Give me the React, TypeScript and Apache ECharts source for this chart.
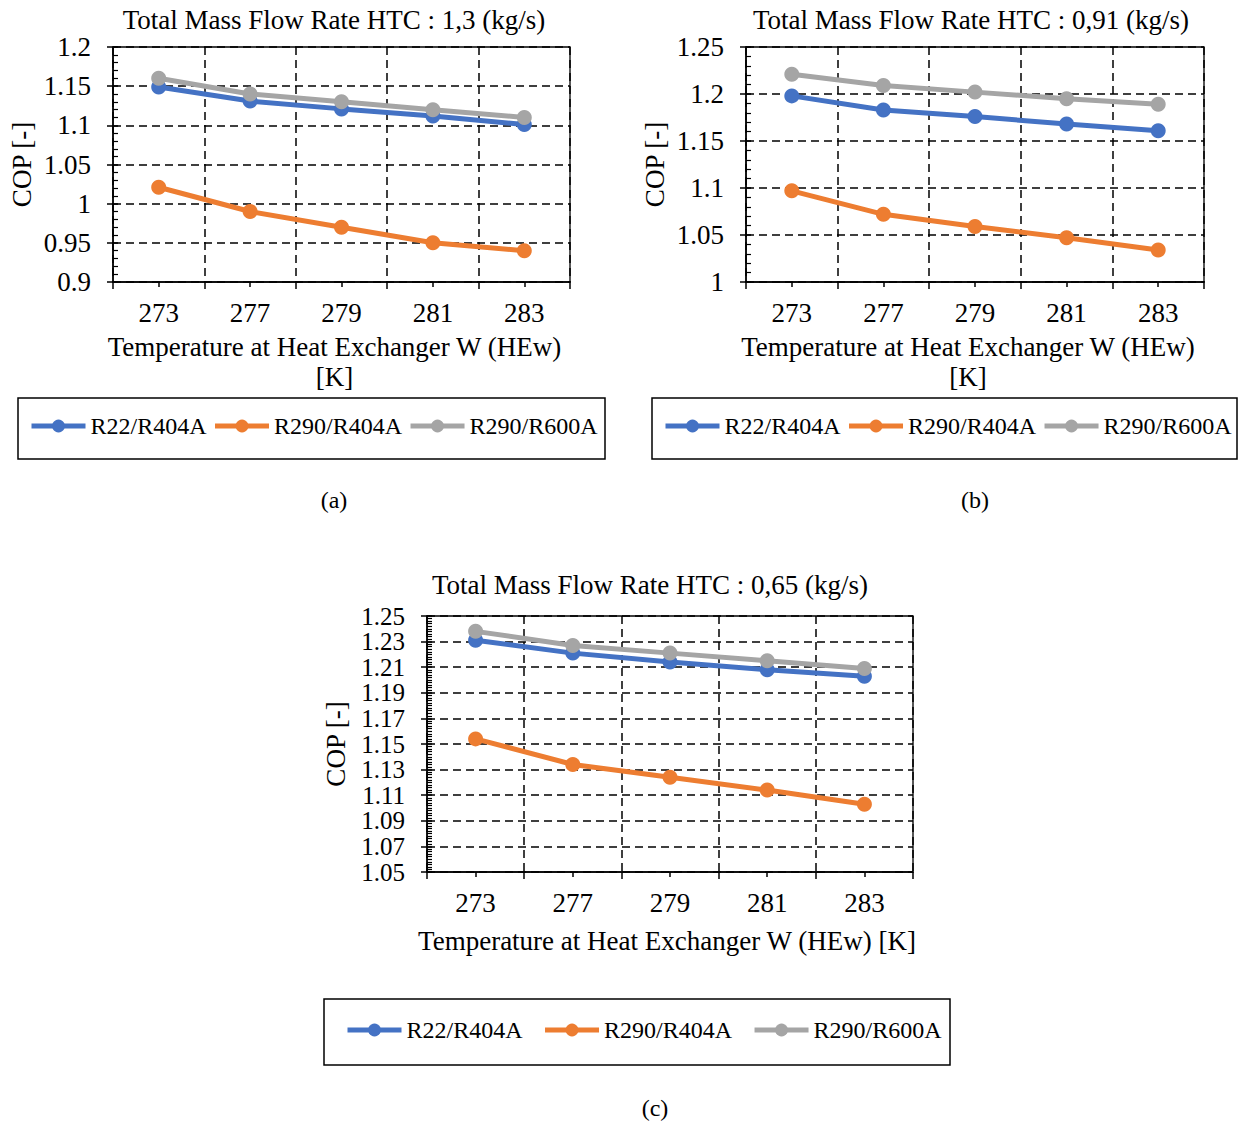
import React, { useEffect, useRef } from 'react';
import * as echarts from 'echarts';

const temps = ['273', '277', '279', '281', '283'];
const seriesNames = ['R22/R404A', 'R290/R404A', 'R290/R600A'];
const colors = ['#4472C4', '#ED7D31', '#A5A5A5'];

// (a) 1,3 kg/s
const aR22 = [1.149, 1.131, 1.121, 1.112, 1.101];
const aR290R404 = [1.021, 0.990, 0.970, 0.950, 0.940];
const aR290R600 = [1.160, 1.140, 1.130, 1.120, 1.110];
// (b) 0,91 kg/s
const bR22 = [1.198, 1.183, 1.176, 1.168, 1.161];
const bR290R404 = [1.097, 1.072, 1.059, 1.047, 1.034];
const bR290R600 = [1.221, 1.209, 1.202, 1.195, 1.189];
// (c) 0,65 kg/s
const cR22 = [1.231, 1.221, 1.214, 1.208, 1.203];
const cR290R404 = [1.154, 1.134, 1.124, 1.114, 1.103];
const cR290R600 = [1.238, 1.227, 1.221, 1.215, 1.209];

// y tick values
const aTicks = [0.9, 0.95, 1.0, 1.05, 1.1, 1.15, 1.2];
const bTicks = [1.0, 1.05, 1.1, 1.15, 1.2, 1.25];
const cTicks = [1.05, 1.07, 1.09, 1.11, 1.13, 1.15, 1.17, 1.19, 1.21, 1.23, 1.25];

const titles = [
  'Total Mass Flow Rate HTC : 1,3 (kg/s)',
  'Total Mass Flow Rate HTC : 0,91 (kg/s)',
  'Total Mass Flow Rate HTC : 0,65 (kg/s)',
];
const xNames = [
  'Temperature at Heat Exchanger W (HEw)\n[K]',
  'Temperature at Heat Exchanger W (HEw)\n[K]',
  'Temperature at Heat Exchanger W (HEw) [K]',
];
const yName = 'COP [-]';
const tags = ['(a)', '(b)', '(c)'];

const FONT = '"Liberation Serif", "Times New Roman", serif';

const panels = [
  {
    grid: { left: 113, top: 47, width: 457, height: 235 },
    ticks: aTicks, interval: 0.05, minorSplit: 5, yFont: 27,
    data: [aR22, aR290R404, aR290R600],
    titleX: 334, titleY: 20,
    xNameGap: 50, xNameShift: 14,
    legendLeft: 29, legendTop: 414, legendGap: 6,
    box: { x: 18, y: 398, w: 587, h: 61 },
    tagX: 334, tagY: 500,
  },
  {
    grid: { left: 746, top: 47, width: 458, height: 235 },
    ticks: bTicks, interval: 0.05, minorSplit: 5, yFont: 27,
    data: [bR22, bR290R404, bR290R600],
    titleX: 971, titleY: 20,
    xNameGap: 50, xNameShift: 14,
    legendLeft: 663, legendTop: 414, legendGap: 6,
    box: { x: 652, y: 398, w: 585, h: 61 },
    tagX: 975, tagY: 500,
  },
  {
    grid: { left: 427, top: 616, width: 486, height: 256 },
    ticks: cTicks, interval: 0.02, minorSplit: 10, yFont: 25,
    data: [cR22, cR290R404, cR290R600],
    titleX: 650, titleY: 585,
    xNameGap: 54, xNameShift: 6,
    legendLeft: 345, legendTop: 1018, legendGap: 20,
    box: { x: 324, y: 999, w: 626, h: 66 },
    tagX: 655, tagY: 1108,
  },
];

const dashed = { color: '#000', width: 1.5, type: [8, 5] as any };
const fmt = (v: number) => String(Math.round(v * 1000) / 1000);

function buildOption() {
  const grids: any[] = [];
  const xAxes: any[] = [];
  const yAxes: any[] = [];
  const series: any[] = [];
  const legends: any[] = [];
  const graphics: any[] = [];

  panels.forEach((p, i) => {
    const min = p.ticks[0];
    const max = p.ticks[p.ticks.length - 1];
    grids.push({
      ...p.grid,
      show: true,
      borderColor: '#000',
      borderWidth: 1.3,
      backgroundColor: 'transparent',
    });
    xAxes.push({
      type: 'category',
      gridIndex: i,
      data: temps,
      boundaryGap: true,
      position: 'bottom',
      name: xNames[i],
      nameLocation: 'middle',
      nameGap: p.xNameGap,
      nameTextStyle: {
        fontFamily: FONT, fontSize: 27, color: '#000', lineHeight: 30,
        verticalAlign: 'top', padding: [0, p.xNameShift, 0, 0],
      },
      axisLine: { show: true, lineStyle: { color: '#000', width: 1.5 } },
      axisTick: { show: true, length: 7, lineStyle: { color: '#000', width: 1.5 } },
      axisLabel: { fontFamily: FONT, fontSize: 27, color: '#000', margin: 17 },
      splitLine: { show: true, lineStyle: dashed },
    });
    yAxes.push({
      type: 'value',
      gridIndex: i,
      min,
      max,
      interval: p.interval,
      name: yName,
      nameLocation: 'middle',
      nameGap: 78,
      nameRotate: 90,
      nameTextStyle: { fontFamily: FONT, fontSize: 27, color: '#000' },
      axisLine: { show: true, lineStyle: { color: '#000', width: 1.5 } },
      axisTick: { show: true, inside: true, length: 5, customValues: p.ticks, lineStyle: { color: '#000', width: 1.5 } },
      minorTick: { show: true, splitNumber: p.minorSplit, length: 5, lineStyle: { color: '#000', width: 1.2 } },
      axisLabel: {
        fontFamily: FONT, fontSize: p.yFont, lineHeight: 20, color: '#000', margin: 22,
        customValues: p.ticks, formatter: fmt, showMinLabel: true, showMaxLabel: true,
        hideOverlap: false, textMargin: 0, minMargin: 0,
      },
      splitLine: { show: true, lineStyle: dashed },
    });
  });
  // secondary axes: short ticks at category centres, outside major y ticks
  panels.forEach((p, i) => {
    const min = p.ticks[0];
    const max = p.ticks[p.ticks.length - 1];
    xAxes.push({
      type: 'category',
      gridIndex: i,
      data: temps,
      position: 'bottom',
      axisLine: { show: false },
      axisTick: { show: true, alignWithLabel: true, length: 5, lineStyle: { color: '#000', width: 1.5 } },
      axisLabel: { show: false },
      splitLine: { show: false },
    });
    yAxes.push({
      type: 'value',
      gridIndex: i,
      min,
      max,
      interval: p.interval,
      position: 'left',
      axisLine: { show: false },
      axisTick: { show: true, length: 6, customValues: p.ticks, lineStyle: { color: '#000', width: 1.5 } },
      axisLabel: { show: false },
      splitLine: { show: false },
    });
  });

  panels.forEach((p, i) => {
    p.data.forEach((vals, k) => {
      series.push({
        type: 'line',
        name: seriesNames[k],
        xAxisIndex: i,
        yAxisIndex: i,
        data: vals,
        symbol: 'circle',
        symbolSize: 15,
        lineStyle: { color: colors[k], width: 5 },
        itemStyle: { color: colors[k] },
        z: 3 + k,
      });
    });
    legends.push({
      left: p.legendLeft,
      top: p.legendTop,
      orient: 'horizontal',
      padding: 0,
      itemGap: p.legendGap,
      itemWidth: 54,
      itemHeight: 16,
      data: seriesNames,
      lineStyle: { width: 5 },
      textStyle: { fontFamily: FONT, fontSize: 24, color: '#000' },
      selectedMode: false,
    });
    graphics.push({
      type: 'rect',
      shape: { x: p.box.x, y: p.box.y, width: p.box.w, height: p.box.h },
      style: { fill: 'none', stroke: '#000', lineWidth: 1.5 },
      z: -1,
    });
    graphics.push({
      type: 'text',
      x: p.titleX,
      y: p.titleY,
      style: {
        text: titles[i], fontFamily: FONT, fontSize: 27, fill: '#000',
        align: 'center', verticalAlign: 'middle',
      },
    });
    graphics.push({
      type: 'text',
      x: p.tagX,
      y: p.tagY,
      style: {
        text: tags[i], fontFamily: FONT, fontSize: 24, fill: '#000',
        align: 'center', verticalAlign: 'middle',
      },
    });
  });

  return {
    animation: false,
    backgroundColor: '#fff',
    grid: grids,
    xAxis: xAxes,
    yAxis: yAxes,
    legend: legends,
    series,
    graphic: graphics,
  };
}

export default function App() {
  const ref = useRef<HTMLDivElement>(null);
  useEffect(() => {
    document.body.style.margin = '0';
    const chart = echarts.init(ref.current!, null, { renderer: 'svg' });
    chart.setOption(buildOption());
    return () => chart.dispose();
  }, []);
  return <div ref={ref} style={{ width: 1238, height: 1122, background: '#fff' }} />;
}
